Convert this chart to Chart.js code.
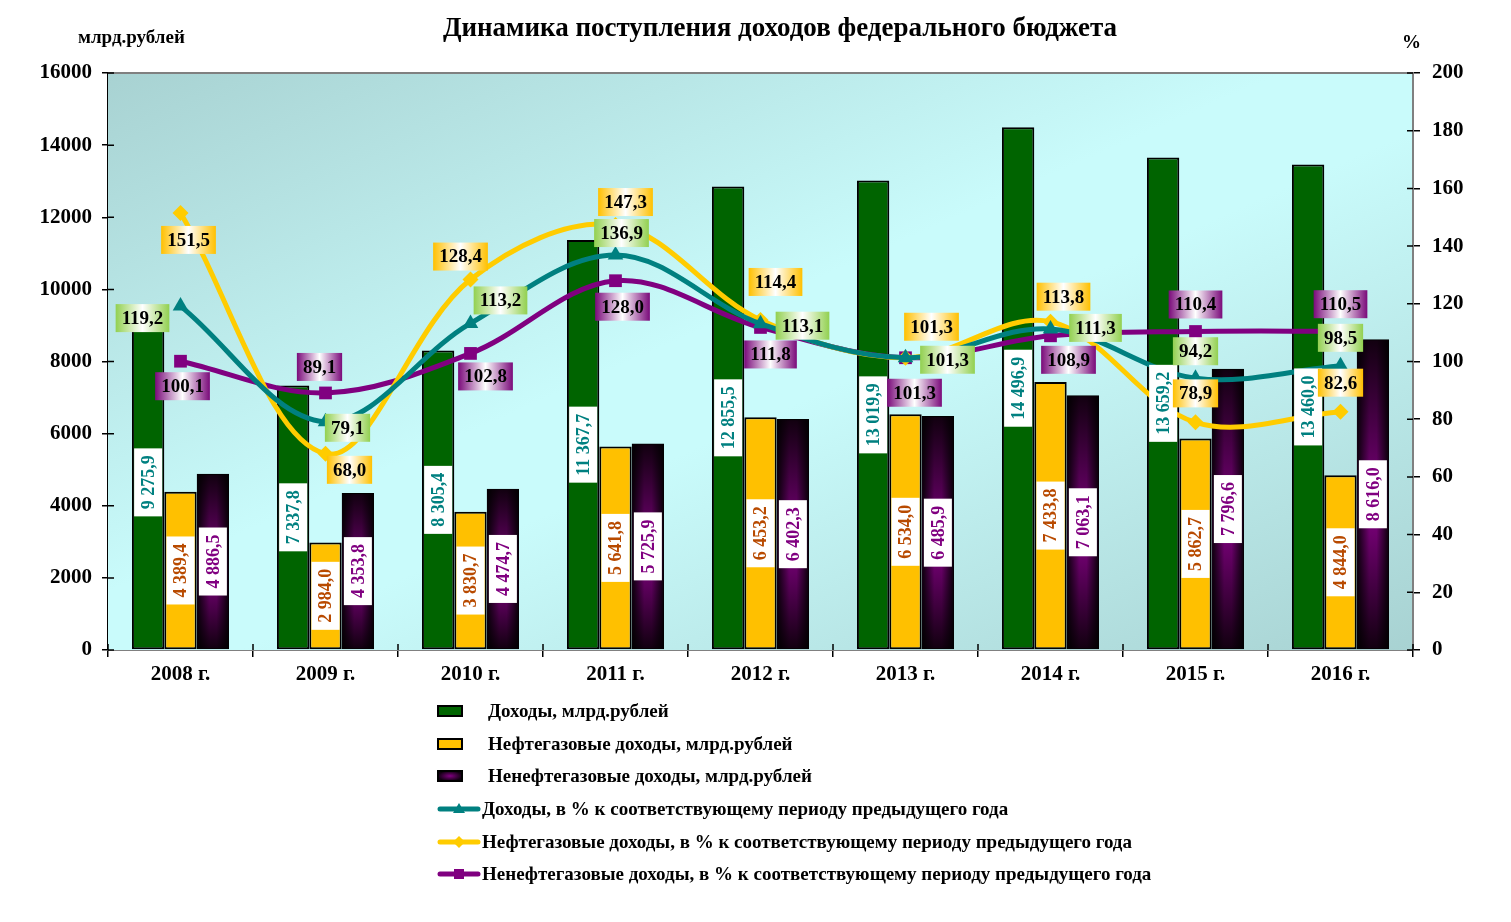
<!DOCTYPE html>
<html lang="ru">
<head>
<meta charset="utf-8">
<title>Динамика поступления доходов федерального бюджета</title>
<script src="https://cdn.jsdelivr.net/npm/chart.js@4.4.1/dist/chart.umd.min.js"></script>
<style>
  body { margin: 0; background: #fff; }
  #wrap { position: relative; width: 1511px; height: 922px; font-family: "Liberation Serif", "Times New Roman", serif; font-weight: bold; color: #000; }
  #wrap canvas { position: absolute; left: 0; top: 0; }
  .txt { position: absolute; white-space: nowrap; }
  #title { left: 280px; width: 1000px; text-align: center; top: 12px; font-size: 27px; }
  #unitLeft { left: 78px; top: 26px; font-size: 19px; }
  #unitRight { left: 1402px; top: 31px; font-size: 19px; }
  #legend { position: absolute; left: 437px; top: 695px; }
  .item { position: relative; height: 32.6px; display: flex; align-items: center; font-size: 19px; white-space: nowrap; }
  .item svg { display: block; }
  .item.bar span { margin-left: 25px; }
  .item.line span { margin-left: 1px; }
</style>
</head>
<body>
<div id="wrap">
  <canvas id="chart" width="1511" height="922"></canvas>
  <div class="txt" id="title">Динамика поступления доходов федерального бюджета</div>
  <div class="txt" id="unitLeft">млрд.рублей</div>
  <div class="txt" id="unitRight">%</div>
  <div id="legend">
    <div class="item bar"><svg width="26" height="12"><rect x="1" y="1" width="24" height="10" fill="#006400" stroke="#000" stroke-width="2"/></svg><span>Доходы, млрд.рублей</span></div>
    <div class="item bar"><svg width="26" height="12"><rect x="1" y="1" width="24" height="10" fill="#FFC000" stroke="#000" stroke-width="2"/></svg><span>Нефтегазовые доходы, млрд.рублей</span></div>
    <div class="item bar"><svg width="26" height="12"><defs><radialGradient id="pg"><stop offset="0" stop-color="#800080"/><stop offset="1" stop-color="#100010"/></radialGradient></defs><rect x="1" y="1" width="24" height="10" fill="url(#pg)" stroke="#000" stroke-width="2"/></svg><span>Ненефтегазовые доходы, млрд.рублей</span></div>
    <div class="item line"><svg width="44" height="14"><line x1="3" y1="7" x2="41" y2="7" stroke="#008080" stroke-width="5" stroke-linecap="round"/><polygon points="22,1 28,11 16,11" fill="#008080"/></svg><span>Доходы, в % к соответствующему периоду предыдущего года</span></div>
    <div class="item line"><svg width="44" height="14"><line x1="3" y1="7" x2="41" y2="7" stroke="#FFCC00" stroke-width="5" stroke-linecap="round"/><polygon points="22,1 28,7 22,13 16,7" fill="#FFCC00"/></svg><span>Нефтегазовые доходы, в % к соответствующему периоду предыдущего года</span></div>
    <div class="item line"><svg width="44" height="14"><line x1="3" y1="7" x2="41" y2="7" stroke="#800080" stroke-width="5" stroke-linecap="round"/><rect x="17" y="2" width="10" height="10" fill="#800080"/></svg><span>Ненефтегазовые доходы, в % к соответствующему периоду предыдущего года</span></div>
  </div>
</div>
<script>
// --- данные ---
const years = ['2008 г.', '2009 г.', '2010 г.', '2011 г.', '2012 г.', '2013 г.', '2014 г.', '2015 г.', '2016 г.'];
const incomeTotal = [9275.9, 7337.8, 8305.4, 11367.7, 12855.5, 13019.9, 14496.9, 13659.2, 13460.0];
const incomeOilGas = [4389.4, 2984.0, 3830.7, 5641.8, 6453.2, 6534.0, 7433.8, 5862.7, 4844.0];
const incomeNonOilGas = [4886.5, 4353.8, 4474.7, 5725.9, 6402.3, 6485.9, 7063.1, 7796.6, 8616.0];
const pctTotal = [119.2, 79.1, 113.2, 136.9, 113.1, 101.3, 111.3, 94.2, 98.5];
const pctOilGas = [151.5, 68.0, 128.4, 147.3, 114.4, 101.3, 113.8, 78.9, 82.6];
const pctNonOilGas = [100.1, 89.1, 102.8, 128.0, 111.8, 101.3, 108.9, 110.4, 110.5];
const leftMax = 16000, leftStep = 2000;
const rightMax = 200, rightStep = 20;

// смещения подписей линий относительно маркера (px)
const offTotal = [[-38, 12], [22, 6], [30, -23], [6, -22], [42, 2], [42, 2], [45, -1], [0, -27], [0, -28]];
const offOilGas = [[8, 27], [24, 16], [-10, -23], [10, -23], [15, -38], [26, -31], [13, -25], [0, -29], [0, -29]];
const offNonOilGas = [[2, 25], [-6, -26], [15, 23], [7, 26], [10, 27], [9, 35], [18, 24], [0, -27], [0, -27]];

const FONT = '"Liberation Serif", "Times New Roman", serif';
const TEAL = '#008080', GOLD = '#FFCC00', PURPLE = '#800080';

function fmtBig(v) {
    const parts = v.toFixed(1).split('.');
    return parts[0].replace(/\B(?=(\d{3})+(?!\d))/g, ' ') + ',' + parts[1];
}
function fmtPct(v) {
    return v.toFixed(1).replace('.', ',');
}

// фон области построения и рамка
const plotBg = {
    id: 'plotBg',
    beforeDatasetsDraw(chart) {
        const { left, top, right, bottom } = chart.chartArea;
        const c = chart.ctx;
        const w = right - left, h = bottom - top;
        const len = Math.hypot(w, h);
        const nx = h / len, ny = w / len, d = w * h / len;
        const cx = (left + right) / 2, cy = (top + bottom) / 2;
        const g = c.createLinearGradient(cx - nx * d, cy - ny * d, cx + nx * d, cy + ny * d);
        g.addColorStop(0, '#A8D2D2');
        g.addColorStop(0.45, '#C9FBFB');
        g.addColorStop(0.55, '#C9FBFB');
        g.addColorStop(1, '#A8D2D2');
        c.save();
        c.fillStyle = g;
        c.fillRect(left, top, w, h);
        c.strokeStyle = '#808080';
        c.lineWidth = 2;
        c.beginPath();
        c.moveTo(left, top);
        c.lineTo(right, top);
        c.lineTo(right, bottom);
        c.stroke();

        // внутренние половинки делений (деления пересекают оси)
        c.strokeStyle = '#000';
        c.lineWidth = 1.5;
        c.beginPath();
        chart.scales.y.ticks.forEach(t => {
            const py = chart.scales.y.getPixelForValue(t.value);
            c.moveTo(left, py); c.lineTo(left + 6, py);
        });
        chart.scales.y1.ticks.forEach(t => {
            const py = chart.scales.y1.getPixelForValue(t.value);
            c.moveTo(right, py); c.lineTo(right - 6, py);
        });
        const step = w / years.length;
        for (let k = 0; k <= years.length; k++) {
            const px = left + k * step;
            c.moveTo(px, bottom); c.lineTo(px, bottom - 6);
        }
        c.stroke();
        c.restore();
    }
};

// заливка фиолетовых столбцов: тёмные края, пурпурная середина
const barShade = {
    id: 'barShade',
    afterDatasetDraw(chart, args) {
        if (args.index !== 2) return;
        const c = chart.ctx;
        args.meta.data.forEach(bar => {
            const half = bar.width / 2 - 1;
            const x0 = bar.x - half, x1 = bar.x + half;
            const y0 = bar.y + 1, y1 = bar.base - 1;
            c.save();
            const gv = c.createLinearGradient(0, y0, 0, y1);
            gv.addColorStop(0, '#120010');
            gv.addColorStop(0.55, '#800080');
            gv.addColorStop(1, '#120010');
            c.fillStyle = gv;
            c.fillRect(x0, y0, x1 - x0, y1 - y0);
            const gh = c.createLinearGradient(x0, 0, x1, 0);
            gh.addColorStop(0, 'rgba(0,0,0,0.85)');
            gh.addColorStop(0.38, 'rgba(0,0,0,0)');
            gh.addColorStop(0.62, 'rgba(0,0,0,0)');
            gh.addColorStop(1, 'rgba(0,0,0,0.85)');
            c.fillStyle = gh;
            c.fillRect(x0, y0, x1 - x0, y1 - y0);
            c.restore();
        });
    }
};

// подписи значений
const valueLabels = {
    id: 'valueLabels',
    afterDatasetsDraw(chart) {
        const c = chart.ctx;
        const barColors = [TEAL, '#B84A00', PURPLE];
        [0, 1, 2].forEach(i => {
            const meta = chart.getDatasetMeta(i);
            const vals = chart.data.datasets[i].data;
            meta.data.forEach((bar, j) => {
                const t = fmtBig(vals[j]);
                const cy = (bar.y + bar.base) / 2;
                c.save();
                c.translate(bar.x, cy);
                c.rotate(-Math.PI / 2);
                c.font = 'bold 18px ' + FONT;
                const w = c.measureText(t).width + 14;
                c.fillStyle = '#fff';
                c.fillRect(-w / 2, -14, w, 28);
                c.fillStyle = barColors[i];
                c.textAlign = 'center';
                c.textBaseline = 'middle';
                c.fillText(t, 0, 1);
                c.restore();
            });
        });

        const lineCfg = [
            { idx: 3, off: offTotal, col: '#92D050' },
            { idx: 4, off: offOilGas, col: '#FFC000' },
            { idx: 5, off: offNonOilGas, col: '#7A0A7A' }
        ];
        lineCfg.forEach(cfg => {
            const meta = chart.getDatasetMeta(cfg.idx);
            const vals = chart.data.datasets[cfg.idx].data;
            meta.data.forEach((pt, j) => {
                const t = fmtPct(vals[j]);
                const cx = pt.x + cfg.off[j][0];
                const cy = pt.y + cfg.off[j][1];
                c.save();
                c.font = 'bold 19px ' + FONT;
                const w = c.measureText(t).width + 12;
                const h = 28;
                const g = c.createLinearGradient(cx - w / 2, 0, cx + w / 2, 0);
                g.addColorStop(0, cfg.col);
                g.addColorStop(0.5, '#ffffff');
                g.addColorStop(1, cfg.col);
                c.fillStyle = g;
                c.fillRect(cx - w / 2, cy - h / 2, w, h);
                c.fillStyle = '#000';
                c.textAlign = 'center';
                c.textBaseline = 'middle';
                c.fillText(t, cx, cy + 1);
                c.restore();
            });
        });
    }
};

const tickFont = { family: FONT, size: 21, weight: 'bold' };

new Chart(document.getElementById('chart'), {
    data: {
        labels: years,
        datasets: [
            { type: 'bar', label: 'Доходы, млрд.рублей', data: incomeTotal, backgroundColor: '#006400',
              borderColor: '#000', borderWidth: 2, borderSkipped: false, yAxisID: 'y', order: 3 },
            { type: 'bar', label: 'Нефтегазовые доходы, млрд.рублей', data: incomeOilGas, backgroundColor: '#FFC000',
              borderColor: '#000', borderWidth: 2, borderSkipped: false, yAxisID: 'y', order: 3 },
            { type: 'bar', label: 'Ненефтегазовые доходы, млрд.рублей', data: incomeNonOilGas, backgroundColor: '#400040',
              borderColor: '#000', borderWidth: 2, borderSkipped: false, yAxisID: 'y', order: 3 },
            { type: 'line', label: 'Доходы, в % к соответствующему периоду предыдущего года', data: pctTotal,
              borderColor: TEAL, backgroundColor: TEAL, borderWidth: 5, tension: 0.35, pointStyle: 'triangle',
              pointRadius: 9, pointBorderWidth: 0, yAxisID: 'y1', order: 1 },
            { type: 'line', label: 'Нефтегазовые доходы, в % к соответствующему периоду предыдущего года', data: pctOilGas,
              borderColor: GOLD, backgroundColor: GOLD, borderWidth: 5, tension: 0.35, pointStyle: 'rectRot',
              pointRadius: 8, pointBorderWidth: 0, yAxisID: 'y1', order: 1 },
            { type: 'line', label: 'Ненефтегазовые доходы, в % к соответствующему периоду предыдущего года', data: pctNonOilGas,
              borderColor: PURPLE, backgroundColor: PURPLE, borderWidth: 5, tension: 0.35, pointStyle: 'rect',
              pointRadius: 9, pointBorderWidth: 0, yAxisID: 'y1', order: 1 }
        ]
    },
    options: {
        responsive: false,
        animation: false,
        layout: { padding: { top: 73, bottom: 232, left: 0, right: 0 } },
        datasets: { bar: { categoryPercentage: 0.67, barPercentage: 1.0 } },
        plugins: { legend: { display: false }, tooltip: { enabled: false } },
        scales: {
            x: {
                offset: true,
                grid: { offset: true, drawOnChartArea: false, tickLength: 7, color: '#000', lineWidth: 1.5 },
                border: { color: '#808080', width: 2 },
                ticks: { color: '#000', font: tickFont, padding: 5 },
                afterFit: s => { s.height = 40; }
            },
            y: {
                position: 'left', min: 0, max: leftMax,
                ticks: { stepSize: leftStep, color: '#000', font: tickFont, padding: 10, callback: v => String(v) },
                grid: { drawOnChartArea: false, tickLength: 6, color: '#000', lineWidth: 1.5 },
                border: { color: '#000', width: 2 },
                afterFit: s => { s.width = 108; }
            },
            y1: {
                position: 'right', min: 0, max: rightMax,
                ticks: { stepSize: rightStep, color: '#000', font: tickFont, padding: 12, callback: v => String(v) },
                grid: { drawOnChartArea: false, tickLength: 7, color: '#000', lineWidth: 1.5 },
                border: { color: '#000', width: 2 },
                afterFit: s => { s.width = 98; }
            }
        }
    },
    plugins: [plotBg, barShade, valueLabels]
});
</script>
</body>
</html>
